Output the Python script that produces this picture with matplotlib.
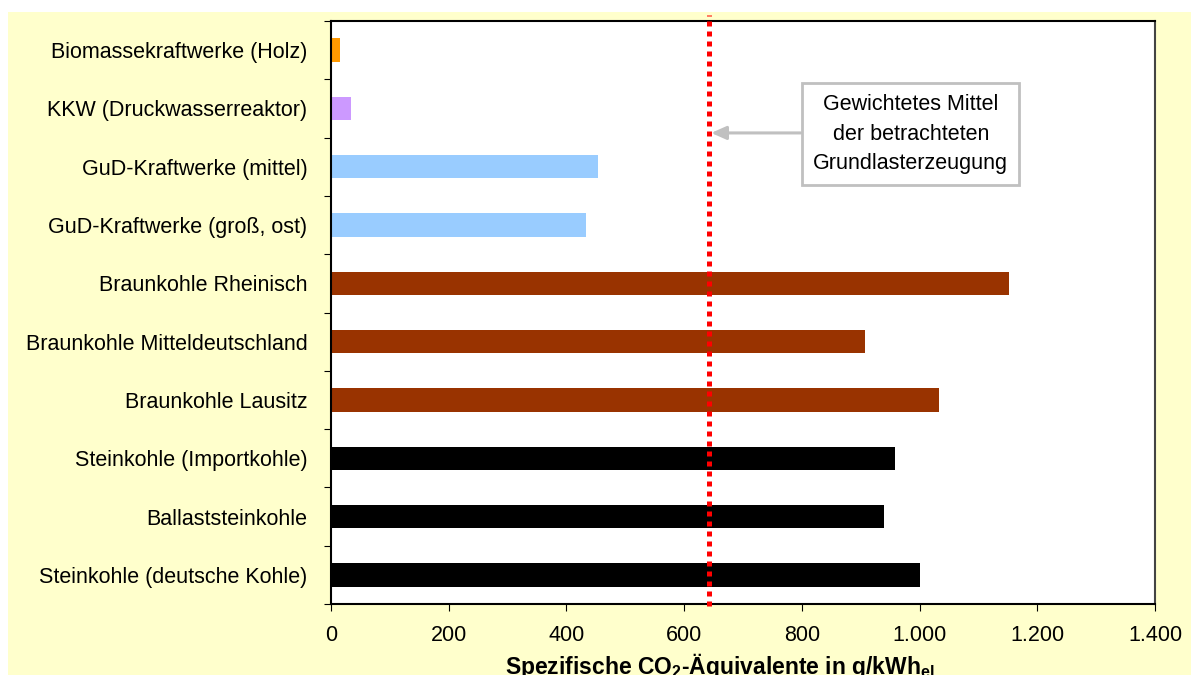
import matplotlib.pyplot as plt
from matplotlib.patches import Rectangle
from matplotlib.ticker import FuncFormatter

plt.rcParams['font.family'] = ['Liberation Sans', 'DejaVu Sans']

# categories top to bottom
labels = ['Biomassekraftwerke (Holz)', 'KKW (Druckwasserreaktor)',
          'GuD-Kraftwerke (mittel)', 'GuD-Kraftwerke (groß, ost)',
          'Braunkohle Rheinisch', 'Braunkohle Mitteldeutschland',
          'Braunkohle Lausitz', 'Steinkohle (Importkohle)',
          'Ballaststeinkohle', 'Steinkohle (deutsche Kohle)']
values = [15, 34, 453, 433, 1152, 907, 1033, 958, 940, 1001]
colors = ['#FF9900', '#CC99FF', '#99CCFF', '#99CCFF', '#993300',
          '#993300', '#993300', '#000000', '#000000', '#000000']
mittel = 642
xticks = [0, 200, 400, 600, 800, 1000, 1200, 1400]

fig = plt.figure(figsize=(11.91, 6.75), dpi=100)
fig.patch.set_facecolor('white')
fig.patches.append(Rectangle((8/1191, 0), 1, 1 - 12/675, transform=fig.transFigure,
                             facecolor='#FFFFCC', edgecolor='none', zorder=-10))

ax = fig.add_axes([331/1191, 1 - 604/675, 824/1191, 583/675])
ax.set_facecolor('white')

n = len(labels)
ypos = list(range(n))
ax.barh(ypos, values, height=0.4, color=colors, zorder=2)

ax.set_ylim(n - 0.5, -0.5)
ax.set_xlim(0, 1400)

# category boundaries as major ticks, labels on minor ticks
ax.set_yticks([i - 0.5 for i in range(n + 1)])
ax.set_yticklabels([])
ax.set_yticks(ypos, minor=True)
ax.set_yticklabels(labels, minor=True, fontsize=15.5)
ax.tick_params(axis='y', which='minor', length=0, pad=17)
ax.tick_params(axis='y', which='major', length=5, direction='out')

ax.set_xticks(xticks)
ax.xaxis.set_major_formatter(FuncFormatter(lambda v, p: f'{int(v):,}'.replace(',', '.')))
ax.tick_params(axis='x', length=5, direction='out', labelsize=15.5, pad=10)

for s in ax.spines.values():
    s.set_linewidth(1.5)
ax.spines['right'].set_color('#444444')

ax.plot([mittel, mittel], [n - 0.5 + 0.03, -0.5 - 0.11], color='#FF0000', lw=3.6,
        linestyle=(0, (1, 1)), dash_capstyle='butt', clip_on=False, zorder=3)

# annotation box and arrow to the mean line
ax.text(985, 1.44, 'Gewichtetes Mittel\nder betrachteten\nGrundlasterzeugung',
        ha='center', va='center', fontsize=15.5, linespacing=1.55, zorder=4,
        bbox=dict(boxstyle='square,pad=0.5', fc='white', ec='#C0C0C0', lw=2))
ax.annotate('', xy=(mittel + 4, 1.42), xytext=(798, 1.42),
            arrowprops=dict(arrowstyle='-|>,head_length=0.9,head_width=0.4',
                            color='#C0C0C0', lw=2.2, shrinkA=0, shrinkB=0),
            zorder=4)

fig.text(505/1191, 1 - 674/675, 'Spezifische CO$_\\mathregular{2}$-Äquivalente in g/kWh$_\\mathregular{el}$',
         fontsize=16.5, fontweight='bold', ha='left', va='baseline')

fig.savefig('out.png', dpi=100)
